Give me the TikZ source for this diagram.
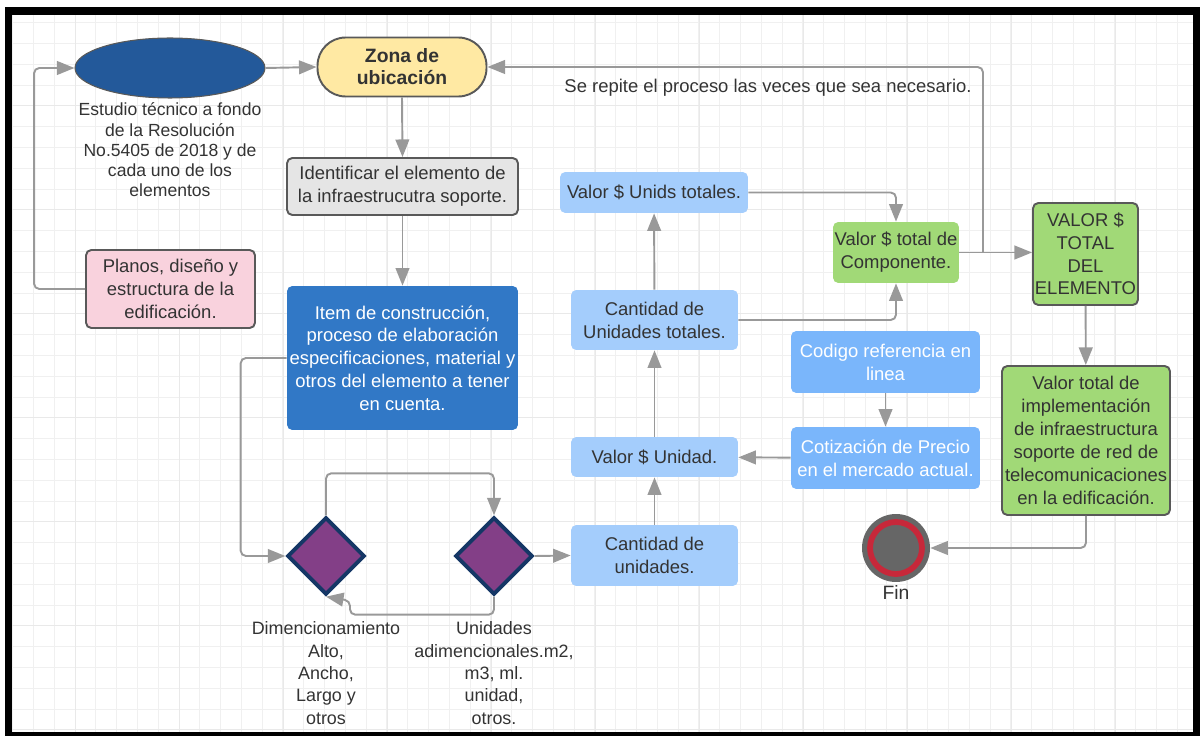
\documentclass[tikz,border=0pt]{standalone}
\usepackage{fontspec}
\setmainfont{Liberation Sans}
\usetikzlibrary{shapes}
\usetikzlibrary{positioning}
\usetikzlibrary{arrows.meta}
\definecolor{txtg}{HTML}{333333}
\definecolor{edgec}{HTML}{999999}
\definecolor{bordc}{HTML}{595959}
\definecolor{elipc}{HTML}{23599A}
\definecolor{zonac}{HTML}{FFE9A3}
\definecolor{grisc}{HTML}{E5E5E5}
\definecolor{rosac}{HTML}{F9D2DD}
\definecolor{itemc}{HTML}{3178C6}
\definecolor{diamc}{HTML}{833F87}
\definecolor{diamb}{HTML}{153766}
\definecolor{azulc}{HTML}{A4CDFC}
\definecolor{azulm}{HTML}{7AB6FB}
\definecolor{verdc}{HTML}{A1D977}
\definecolor{finc}{HTML}{666666}
\definecolor{finr}{HTML}{C7283A}
\tikzset{
    txt/.style = {align=center,text=txtg,inner sep=0pt,font=\fontsize{10.5}{13}\selectfont},
    mynodee/.style = {ellipse, draw=bordc, line width=0.6pt, fill=elipc, minimum width=3.8cm, minimum height=1.2cm},
    mynodez/.style = {txt, rectangle, rounded corners=16pt, draw=bordc, line width=1.1pt, fill=zonac, font=\fontsize{11}{12.5}\selectfont\bfseries, minimum width=3.38cm, minimum height=1.18cm},
    mynodeg/.style = {txt, rectangle, rounded corners=3pt, draw=bordc, line width=1.1pt, fill=grisc},
    mynodep/.style = {txt, rectangle, rounded corners=3pt, draw=bordc, line width=1.1pt, fill=rosac},
    mynodeb/.style = {txt, rectangle, rounded corners=3pt, fill=itemc, text=white},
    mynodel/.style = {txt, rectangle, rounded corners=3pt, fill=azulc},
    mynodem/.style = {txt, rectangle, rounded corners=3pt, fill=azulm, text=white},
    mynodev/.style = {txt, rectangle, rounded corners=3pt, fill=verdc},
    mynodevd/.style = {txt, rectangle, rounded corners=3pt, fill=verdc, draw=bordc, line width=1.1pt},
    mynoded/.style = {diamond, aspect=1, fill=diamc, draw=diamb, line width=2.2pt, minimum width=1.55cm, minimum height=1.55cm, inner sep=0pt},
    lbl/.style = {txt, font=\fontsize{10.2}{12.7}\selectfont},
    edgea/.style = {-{Triangle[length=10pt,width=7.8pt]}, line width=1.1pt, edgec, rounded corners=3pt},
    gridm/.style = {line width=0.4pt, gray!12},
    gridM/.style = {line width=0.5pt, gray!17}
}

\begin{document}
\begin{tikzpicture}[x=0.02cm,y=-0.02cm]
\useasboundingbox (0,0) rectangle (1200,736);
% fondo
\begin{scope}
\clip (12,15) rectangle (1193,732);
\draw[gridm, step=0.416cm, xshift=0.25cm, yshift=-0.036cm] (-40,760) grid (1220,-20);
\draw[gridM, step=2.08cm, xshift=1.514cm, yshift=-0.034cm] (-120,760) grid (1220,-20);
\end{scope}
\draw[line width=4.3pt, black] (8.5,11) rectangle (1196.5,735.5);
%
\node[mynodee] at (170,68) (est) {};
\node[lbl, font=\fontsize{10}{11.5}\selectfont] at (170,150) (estl) {Estudio técnico a fondo\\de la Resolución\\No.5405 de 2018 y de\\cada uno de los\\elementos};
\node[mynodez] at (402,67) (zona) {Zona de\\ubicación};
\node[mynodeg, minimum width=4.62cm, minimum height=1.14cm] at (402.5,186.5) (idn) {Identificar el elemento de\\la infraestrucutra soporte.};
\node[mynodep, minimum width=3.38cm, minimum height=1.56cm] at (170.5,289) (pla) {Planos, diseño y\\estructura de la\\edificación.};
\node[mynodeb, minimum width=4.62cm, minimum height=2.88cm] at (402.5,358) (item) {Item de construcción,\\proceso de elaboración\\especificaciones, material y\\otros del elemento a tener\\en cuenta.};
%
\node[mynoded] at (326,556) (d1) {};
\node[mynoded] at (494,556) (d2) {};
\node[lbl] at (326,673) (d1l) {Dimencionamiento\\Alto,\\Ancho,\\Largo y\\otros};
\node[lbl] at (494,673) (d2l) {Unidades\\adimencionales.m2,\\m3, ml.\\unidad,\\otros.};
%
\node[mynodel, minimum width=3.34cm, minimum height=1.22cm] at (654.5,555.5) (cu) {Cantidad de\\unidades.};
\node[mynodel, minimum width=3.34cm, minimum height=0.8cm] at (654.5,457) (vu) {Valor \$ Unidad.};
\node[mynodel, minimum width=3.34cm, minimum height=1.2cm] at (654.5,320) (ct) {Cantidad de\\Unidades totales.};
\node[mynodel, minimum width=3.76cm, minimum height=0.82cm] at (654,192.5) (vt) {Valor \$ Unids totales.};
\node[mynodem, minimum width=3.78cm, minimum height=1.24cm] at (885.5,362) (cod) {Codigo referencia en\\linea};
\node[mynodem, minimum width=3.78cm, minimum height=1.24cm] at (885.5,458) (cot) {Cotización de Precio\\en el mercado actual.};
\node[mynodev, minimum width=2.52cm, minimum height=1.22cm] at (896,252.5) (comp) {Valor \$ total de\\Componente.};
\node[mynodevd, minimum width=2.1cm, minimum height=2.04cm] at (1085.5,254) (vte) {VALOR \$\\TOTAL\\DEL\\ELEMENTO};
\node[mynodevd, minimum width=3.36cm, minimum height=2.98cm] at (1086,440.5) (vimp) {Valor total de\\implementación\\de infraestructura\\soporte de red de\\telecomunicaciones\\en la edificación.};
%
\node[circle, fill=finc, minimum size=1.36cm, inner sep=0pt] at (896,548) (fin) {};
\node[circle, fill=finc, draw=finr, line width=3.3pt, minimum size=1.04cm, inner sep=0pt] at (fin) (finr) {};
\node[txt, font=\fontsize{11}{13}\selectfont] at (896,592) (finl) {Fin};
\node[txt] at (768,88) (rep) {Se repite el proceso las veces que sea necesario.};
\coordinate (rp) at (983,253);
%
\draw[edgea] (pla.west) -- ++(-51,0) |- (est.west);
\draw[edgea] (est.east) -- (zona.west);
\draw[edgea] (zona.south) -- (idn.north);
\draw[edgea] (idn) -- (item);
\draw[edgea] (item.west) -- ++(-46,0) |- (d1.west);
\draw[edgea] (d1.north) -- ++(0,-42) -| (d2.north);
\draw[edgea] (d2.south) -- ++(0,18) -- ++(-144,0) -- ++(0,-14) -- (d1.south);
\draw[edgea] (d2.east) -- (cu.west);
\draw[edgea] (cu) -- (vu);
\draw[edgea] (cot) -- (vu);
\draw[edgea] (cod) -- (cot);
\draw[edgea] (vu) -- (ct);
\draw[edgea] (ct) -- (vt);
\draw[edgea] (vt.east) -| (comp.north);
\draw[edgea] (ct.east) -| (comp.south);
\draw[edgea] (comp.east) -- (comp.east -| vte.west);
\draw[edgea] (rp) |- (zona.east);
\draw[edgea] (vte) -- (vimp);
\draw[edgea] (vimp.south) |- (fin.east);

\end{tikzpicture}
\end{document}
